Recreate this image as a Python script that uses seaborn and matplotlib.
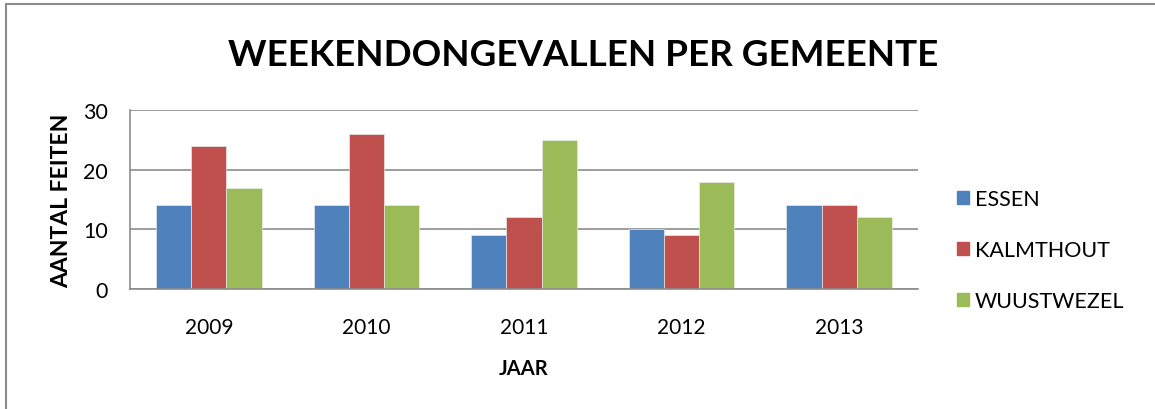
import pandas as pd
import matplotlib
matplotlib.use('Agg')
import matplotlib.pyplot as plt
import seaborn as sns
from matplotlib.patches import Rectangle

years = ['2009', '2010', '2011', '2012', '2013']
essen = [14, 14, 9, 10, 14]
kalmthout = [24, 26, 12, 9, 14]
wuustwezel = [17, 14, 25, 18, 12]
gemeenten = ['ESSEN', 'KALMTHOUT', 'WUUSTWEZEL']
colors = ['#4F81BD', '#C0504D', '#9BBB59']

df = pd.DataFrame({'JAAR': years, 'ESSEN': essen, 'KALMTHOUT': kalmthout, 'WUUSTWEZEL': wuustwezel})
df = df.melt(id_vars='JAAR', var_name='GEMEENTE', value_name='FEITEN')

sns.set_style('white')
plt.rcParams['font.family'] = ['Lato', 'DejaVu Sans']
plt.rcParams['text.color'] = 'black'
plt.rcParams['axes.labelcolor'] = 'black'
plt.rcParams['xtick.color'] = 'black'
plt.rcParams['ytick.color'] = 'black'

fig = plt.figure(figsize=(11.55, 4.10), dpi=100)
ax = fig.add_axes([130 / 1155, 1 - 290 / 410, (918 - 130) / 1155, (290 - 111) / 410])

sns.barplot(data=df, x='JAAR', y='FEITEN', hue='GEMEENTE', hue_order=gemeenten,
            palette=colors, width=0.67, gap=0, saturation=1, ax=ax, legend=False,
            linewidth=0.5, edgecolor='#e8e8e8')

ax.set_ylim(0, 30)
ax.set_yticks([0, 10, 20, 30])
ax.grid(axis='y', color='#8c8c8c', linewidth=1.2)
ax.set_axisbelow(True)
for side in ['top', 'right']:
    ax.spines[side].set_visible(False)
for side in ['left', 'bottom']:
    ax.spines[side].set_color('#8c8c8c')
    ax.spines[side].set_linewidth(1.2)
ax.tick_params(axis='y', length=7, color='#8c8c8c', width=1.2, labelsize=15.5, pad=9)
ax.tick_params(axis='x', length=0, labelsize=15, pad=20)

ax.set_xlabel('JAAR', fontsize=14.5, fontweight='bold', labelpad=15)
ax.set_ylabel('AANTAL FEITEN', fontsize=16.5, fontweight='bold', labelpad=8)

fig.text(0.505, 1 - 55 / 410, 'WEEKENDONGEVALLEN PER GEMEENTE', ha='center', va='center',
         fontsize=26.5, fontweight='bold')

handles = [Rectangle((0, 0), 1, 1, color=c) for c in colors]
fig.legend(handles, gemeenten, loc='center left', bbox_to_anchor=(938 / 1155, 1 - 251 / 410),
           frameon=False, fontsize=15.5, handlelength=0.55, handleheight=0.55,
           handletextpad=0.25, labelspacing=1.45)

fig.patches.append(Rectangle((6 / 1155, -0.1), 1.2, 1.1 - 5 / 410, transform=fig.transFigure,
                             fill=False, edgecolor='#8c8c8c', linewidth=1.5))

fig.savefig('out.png', dpi=100)
